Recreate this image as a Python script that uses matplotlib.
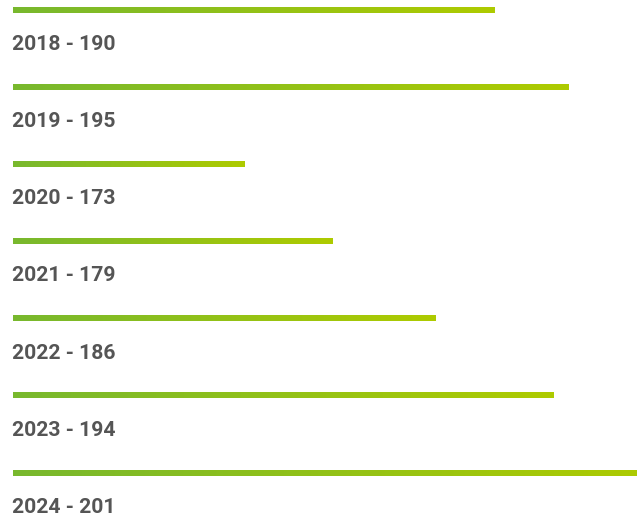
import matplotlib
matplotlib.use("Agg")
import matplotlib.pyplot as plt
import numpy as np
from matplotlib.colors import LinearSegmentedColormap

years = ["2018", "2019", "2020", "2021", "2022", "2023", "2024"]
values = [190, 195, 173, 179, 186, 194, 201]

W, H = 637, 517
fig = plt.figure(figsize=(W / 100, H / 100), dpi=100)
ax = fig.add_axes([13 / W, 0, (W - 13) / W, 1])
xmin, xmax = 157.3, 199.66
ax.set_xlim(xmin, xmax)
ax.set_ylim(6.57, -0.13)
ax.axis("off")

cmap = LinearSegmentedColormap.from_list("g", ["#78b82e", "#aecb00"])
grad = np.linspace(0, 1, 256).reshape(1, -1)
bh = 0.065
for i, (y, v) in enumerate(zip(years, values)):
    ax.imshow(grad, cmap=cmap, aspect="auto", extent=(xmin, v, i + bh / 2, i - bh / 2),
              interpolation="bilinear", zorder=2)
    ax.text(-0.002, i + 0.445, f"{y} - {v}", transform=ax.get_yaxis_transform(),
            ha="left", va="center", fontsize=15.2, fontweight="bold",
            family="Roboto", color="#555555")
ax.set_xlim(xmin, xmax)
ax.set_ylim(6.57, -0.13)
fig.savefig("out.png", dpi=100)
